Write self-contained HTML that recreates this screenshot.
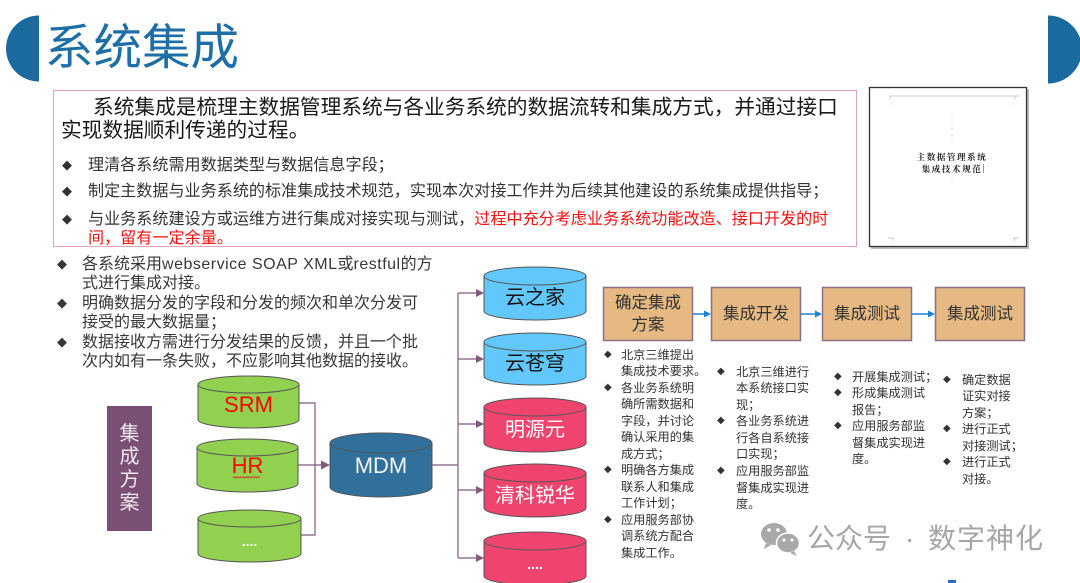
<!DOCTYPE html>
<html><head><meta charset="utf-8">
<style>
html,body{margin:0;padding:0;background:#fff;}
body{width:1080px;height:583px;position:relative;overflow:hidden;font-family:"Liberation Sans","Noto Sans CJK SC",sans-serif;}
.a{position:absolute;white-space:nowrap;}
.d{position:absolute;left:0;font-family:"DejaVu Sans",sans-serif;}
.it{position:relative;}
.lt{letter-spacing:0.5px;}
</style></head><body>
<svg class="a" style="left:0;top:0" width="1080" height="583" viewBox="0 0 1080 583">
  <!-- title semicircles -->
  <path d="M39 15.5 A33 33 0 0 0 39 81.5 Z" fill="#1a6aa0"/>
  <path d="M1048 15.5 A34 34 0 0 1 1048 83.5 Z" fill="#1a6aa0"/>
  <!-- pink box -->
  <rect x="53.5" y="90.5" width="803" height="156" fill="none" stroke="#e2a3b4" stroke-width="1"/>
  <!-- doc thumbnail -->
  <rect x="871" y="89" width="158" height="160" fill="#bbb"/>
  <rect x="869.5" y="87.5" width="157" height="159" fill="#fff" stroke="#333" stroke-width="1.3"/>
  <path d="M890 99 V96 H1015 V99 M1015 96 H1019" fill="none" stroke="#ccc" stroke-width="1"/>
  <path d="M888 238 H893 V241 M1014 241 V238 H1019" fill="none" stroke="#bbb" stroke-width="0.8"/>
  <g fill="#bbb"><circle cx="952" cy="117" r="0.6"/><circle cx="952" cy="123" r="0.6"/><circle cx="952" cy="129" r="0.6"/><circle cx="952" cy="135" r="0.6"/><circle cx="952" cy="141" r="0.6"/><circle cx="952" cy="182" r="0.6"/><circle cx="891" cy="104" r="0.5"/><circle cx="1013" cy="104" r="0.5"/></g>
  <line x1="983.5" y1="164" x2="983.5" y2="173" stroke="#555" stroke-width="0.6"/>

  <!-- 集成方案 box -->
  <rect x="107" y="406" width="45" height="125" fill="#794f74"/>

  <!-- green cylinders -->
  <g stroke="#555" stroke-width="1" fill="#92d050">
    <path d="M198 384.5 V419.5 A50.5 8.5 0 0 0 299 419.5 V384.5 Z"/>
    <ellipse cx="248.5" cy="384.5" rx="50.5" ry="8.5"/>
    <path d="M197 447.5 V483.5 A50.5 8.5 0 0 0 298 483.5 V447.5 Z"/>
    <ellipse cx="247.5" cy="447.5" rx="50.5" ry="8.5"/>
    <path d="M198 518.5 V553.5 A51.5 8.5 0 0 0 301 553.5 V518.5 Z"/>
    <ellipse cx="249.5" cy="518.5" rx="51.5" ry="8.5"/>
  </g>
  <!-- MDM -->
  <g stroke="#555" stroke-width="1" fill="#31709a">
    <path d="M330 443 V487 A51 10 0 0 0 432 487 V443 Z"/>
    <ellipse cx="381" cy="443" rx="51" ry="10"/>
  </g>
  <!-- right cylinders -->
  <g stroke="#555" stroke-width="1">
    <path d="M484 276 V311 A51 9 0 0 0 586 311 V276 Z" fill="#62c8fc"/>
    <ellipse cx="535" cy="276" rx="51" ry="9" fill="#62c8fc"/>
    <path d="M484 342 V376 A51 9 0 0 0 586 376 V342 Z" fill="#62c8fc"/>
    <ellipse cx="535" cy="342" rx="51" ry="9" fill="#62c8fc"/>
    <path d="M484 407 V443 A51 9 0 0 0 586 443 V407 Z" fill="#ef446d"/>
    <ellipse cx="535" cy="407" rx="51" ry="9" fill="#ef446d"/>
    <path d="M484 473 V508 A51 9 0 0 0 586 508 V473 Z" fill="#ef446d"/>
    <ellipse cx="535" cy="473" rx="51" ry="9" fill="#ef446d"/>
    <path d="M484 541 V576 A51 9 0 0 0 586 576 V541 Z" fill="#ef446d"/>
    <ellipse cx="535" cy="541" rx="51" ry="9" fill="#ef446d"/>
  </g>

  <!-- connectors -->
  <g stroke="#7f5b7e" stroke-width="1.2" fill="none">
    <path d="M299 403 H315 V535 H301"/>
    <path d="M298 465 H323"/>
    <path d="M432 465 H458"/>
    <path d="M458 293 V558"/>
    <path d="M458 293 H477 M458 359 H477 M458 424 H477 M458 490 H477 M458 558 H477"/>
  </g>
  <g fill="#7f5b7e">
    <path d="M330 465 L321 460.5 L321 469.5 Z"/>
    <path d="M484 293 L476 289 L476 297 Z"/>
    <path d="M484 359 L476 355 L476 363 Z"/>
    <path d="M484 424 L476 420 L476 428 Z"/>
    <path d="M484 490 L476 486 L476 494 Z"/>
    <path d="M484 558 L476 554 L476 562 Z"/>
  </g>
  <!-- HR wavy underline -->
  <path d="M233 478 l1.5 -1.5 l1.5 1.5 l1.5 -1.5 l1.5 1.5 l1.5 -1.5 l1.5 1.5 l1.5 -1.5 l1.5 1.5 l1.5 -1.5 l1.5 1.5 l1.5 -1.5 l1.5 1.5 l1.5 -1.5 l1.5 1.5 l1.5 -1.5 l1.5 1.5 l1.5 -1.5 l1.5 1.5" fill="none" stroke="#e03030" stroke-width="0.8"/>

  <!-- process boxes -->
  <g fill="#e6b882" stroke="#8e6f8a" stroke-width="1.5">
    <rect x="603.5" y="287.5" width="89" height="53"/>
    <rect x="711.5" y="287.5" width="89" height="53"/>
    <rect x="822.5" y="287.5" width="89" height="53"/>
    <rect x="935.5" y="287.5" width="89" height="53"/>
  </g>
  <g stroke="#1e80d2" stroke-width="1.5">
    <line x1="693" y1="314" x2="706" y2="314"/>
    <line x1="801" y1="314" x2="817" y2="314"/>
    <line x1="912" y1="314" x2="930" y2="314"/>
  </g>
  <g fill="#1e80d2">
    <path d="M711 314 L704 310.5 L704 317.5 Z"/>
    <path d="M822 314 L815 310.5 L815 317.5 Z"/>
    <path d="M935 314 L928 310.5 L928 317.5 Z"/>
  </g>

  <!-- wechat icon -->
  <g fill="#a9a9a9">
    <ellipse cx="774" cy="534" rx="13" ry="11"/>
    <path d="M766 543 L764 549 L771 545 Z"/>
    <ellipse cx="788" cy="543" rx="11.5" ry="10" stroke="#fff" stroke-width="1.5"/>
    <path d="M794 551 L797 556 L790 553 Z"/>
  </g>
  <g fill="#fff">
    <circle cx="769" cy="530" r="1.8"/><circle cx="778" cy="530" r="1.8"/>
    <circle cx="784" cy="540" r="1.5"/><circle cx="792" cy="540" r="1.5"/>
  </g>
  <!-- bottom bits -->
  <rect x="948" y="580" width="8" height="3" fill="#2a6fd0"/>
</svg>

<!-- Title -->
<div class="a" style="left:45px;top:23px;font-size:48.5px;line-height:50px;color:#1d6ea6;">系统集成</div>

<!-- pink box text -->
<div class="a" style="left:93px;top:96px;font-size:20.7px;line-height:23px;color:#1a1a1a;">系统集成是梳理主数据管理系统与各业务系统的数据流转和集成方式，并通过接口</div>
<div class="a" style="left:61px;top:119px;font-size:20.7px;line-height:23px;color:#1a1a1a;">实现数据顺利传递的过程。</div>
<div class="a" style="left:62px;top:156px;font-size:16px;line-height:19px;color:#333;"><span style="font-family:'DejaVu Sans';font-size:13px;position:relative;top:-1px;">◆</span></div>
<div class="a" style="left:88px;top:155.5px;font-size:16.1px;line-height:19px;color:#333;">理清各系统需用数据类型与数据信息字段；</div>
<div class="a" style="left:62px;top:182px;font-size:16px;line-height:19px;color:#333;"><span style="font-family:'DejaVu Sans';font-size:13px;position:relative;top:-1px;">◆</span></div>
<div class="a" style="left:88px;top:181.5px;font-size:16.1px;line-height:19px;color:#333;">制定主数据与业务系统的标准集成技术规范，实现本次对接工作并为后续其他建设的系统集成提供指导；</div>
<div class="a" style="left:62px;top:210px;font-size:16px;line-height:19px;color:#333;"><span style="font-family:'DejaVu Sans';font-size:13px;position:relative;top:-1px;">◆</span></div>
<div class="a" style="left:88px;top:209.5px;font-size:16.1px;line-height:19px;color:#333;">与业务系统建设方或运维方进行集成对接实现与测试，<span style="color:#ff1010">过程中充分考虑业务系统功能改造、接口开发的时</span><br><span style="color:#ff1010">间，留有一定余量。</span></div>

<!-- doc thumbnail text -->
<div class="a" style="left:905px;top:151px;width:94px;text-align:center;font-family:'Liberation Serif','Noto Serif CJK SC',serif;font-size:8.5px;line-height:12px;letter-spacing:1.6px;color:#222;font-weight:bold;">主数据管理系统<br>集成技术规范</div>

<!-- left bullets -->
<div class="a" style="left:57px;top:255px;font-size:16px;line-height:19px;color:#383838;">
  <div class="it" style="padding-left:25px;"><span class="d" style="font-size:13px;top:0;">◆</span>各系统采用<span class="lt">webservice SOAP XML</span>或<span class="lt">restful</span>的方<br>式进行集成对接。</div>
  <div class="it" style="padding-left:25px;margin-top:1px;"><span class="d" style="font-size:13px;top:0;">◆</span>明确数据分发的字段和分发的频次和单次分发可<br>接受的最大数据量；</div>
  <div class="it" style="padding-left:25px;margin-top:1px;"><span class="d" style="font-size:13px;top:0;">◆</span>数据接收方需进行分发结果的反馈，并且一个批<br>次内如有一条失败，不应影响其他数据的接收。</div>
</div>

<!-- 集成方案 vertical -->
<div class="a" style="left:107px;top:423px;width:45px;text-align:center;font-size:20px;line-height:23px;color:#f0e6f0;">集<br>成<br>方<br>案</div>

<!-- cylinder labels -->
<div class="a" style="left:198px;top:392px;width:101px;text-align:center;font-size:22px;line-height:26px;color:#ff0000;">SRM</div>
<div class="a" style="left:197px;top:453px;width:101px;text-align:center;font-size:22px;line-height:26px;color:#ff0000;">HR</div>
<div class="a" style="left:198px;top:533px;width:103px;text-align:center;font-size:14px;line-height:16px;color:#fff;font-weight:bold;">....</div>
<div class="a" style="left:330px;top:453px;width:102px;text-align:center;font-size:22px;line-height:26px;color:#f2f2f2;">MDM</div>
<div class="a" style="left:484px;top:286px;width:102px;text-align:center;font-size:20px;line-height:24px;color:#111;">云之家</div>
<div class="a" style="left:484px;top:352px;width:102px;text-align:center;font-size:20px;line-height:24px;color:#111;">云苍穹</div>
<div class="a" style="left:484px;top:418px;width:102px;text-align:center;font-size:20px;line-height:24px;color:#fff;">明源元</div>
<div class="a" style="left:484px;top:484px;width:102px;text-align:center;font-size:20px;line-height:24px;color:#fff;">清科锐华</div>
<div class="a" style="left:484px;top:556px;width:102px;text-align:center;font-size:14px;line-height:16px;color:#fff;font-weight:bold;">....</div>

<!-- process box labels -->
<div class="a" style="left:603px;top:292px;width:90px;text-align:center;font-size:16.5px;line-height:22px;color:#333;">确定集成<br>方案</div>
<div class="a" style="left:711px;top:303px;width:90px;text-align:center;font-size:16.5px;line-height:22px;color:#333;">集成开发</div>
<div class="a" style="left:822px;top:303px;width:90px;text-align:center;font-size:16.5px;line-height:22px;color:#333;">集成测试</div>
<div class="a" style="left:935px;top:303px;width:90px;text-align:center;font-size:16.5px;line-height:22px;color:#333;">集成测试</div>

<!-- process bullet columns -->
<div class="a" style="left:604px;top:346.5px;font-size:12.2px;line-height:16.5px;color:#333;">
  <div class="it" style="padding-left:17px;"><span class="d" style="font-size:10px;">◆</span>北京三维提出<br>集成技术要求。</div>
  <div class="it" style="padding-left:17px;"><span class="d" style="font-size:10px;">◆</span>各业务系统明<br>确所需数据和<br>字段，并讨论<br>确认采用的集<br>成方式；</div>
  <div class="it" style="padding-left:17px;"><span class="d" style="font-size:10px;">◆</span>明确各方集成<br>联系人和集成<br>工作计划；</div>
  <div class="it" style="padding-left:17px;"><span class="d" style="font-size:10px;">◆</span>应用服务部协<br>调系统方配合<br>集成工作。</div>
</div>
<div class="a" style="left:717px;top:363.5px;font-size:12.2px;line-height:16.6px;color:#333;">
  <div class="it" style="padding-left:19px;"><span class="d" style="font-size:10px;">◆</span>北京三维进行<br>本系统接口实<br>现；</div>
  <div class="it" style="padding-left:19px;"><span class="d" style="font-size:10px;">◆</span>各业务系统进<br>行各自系统接<br>口实现；</div>
  <div class="it" style="padding-left:19px;"><span class="d" style="font-size:10px;">◆</span>应用服务部监<br>督集成实现进<br>度。</div>
</div>
<div class="a" style="left:834px;top:368.5px;font-size:12.2px;line-height:16.6px;color:#333;">
  <div class="it" style="padding-left:18px;"><span class="d" style="font-size:10px;">◆</span>开展集成测试；</div>
  <div class="it" style="padding-left:18px;"><span class="d" style="font-size:10px;">◆</span>形成集成测试<br>报告；</div>
  <div class="it" style="padding-left:18px;"><span class="d" style="font-size:10px;">◆</span>应用服务部监<br>督集成实现进<br>度。</div>
</div>
<div class="a" style="left:943px;top:371.5px;font-size:12.2px;line-height:16.5px;color:#333;">
  <div class="it" style="padding-left:19px;"><span class="d" style="font-size:10px;">◆</span>确定数据<br>证实对接<br>方案；</div>
  <div class="it" style="padding-left:19px;"><span class="d" style="font-size:10px;">◆</span>进行正式<br>对接测试；</div>
  <div class="it" style="padding-left:19px;"><span class="d" style="font-size:10px;">◆</span>进行正式<br>对接。</div>
</div>

<!-- watermark -->
<div class="a" style="left:807px;top:523px;font-size:28px;line-height:32px;color:#a6a6a6;">公众号</div>
<div class="a" style="left:905px;top:523px;font-size:28px;line-height:32px;color:#a6a6a6;">·</div>
<div class="a" style="left:928px;top:523px;font-size:28px;line-height:32px;color:#a6a6a6;letter-spacing:1px;">数字神化</div>
</body></html>
